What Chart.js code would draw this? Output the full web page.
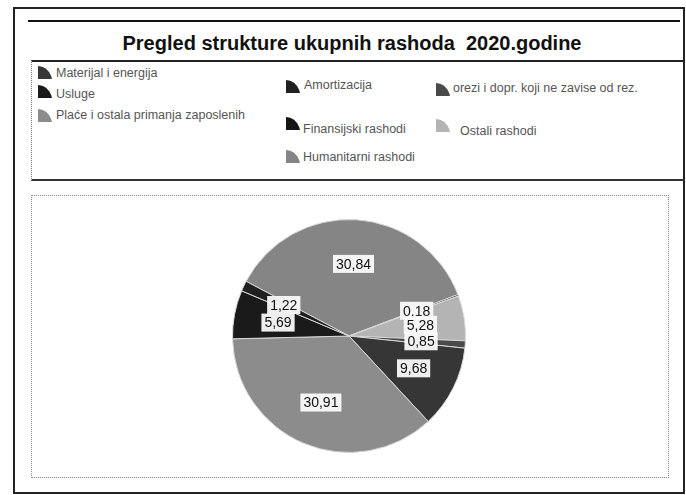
<!DOCTYPE html>
<html>
<head>
<meta charset="utf-8">
<script src="https://cdn.jsdelivr.net/npm/chart.js@4.4.0/dist/chart.umd.min.js"></script>
<style>
  html,body{margin:0;padding:0;background:#fff;}
  #wrap{position:relative;width:686px;height:495px;overflow:hidden;font-family:"Liberation Sans",Arial,sans-serif;}
  .frame{position:absolute;left:13px;top:7px;width:668px;height:483px;border:2px solid #222;}
  .topline{position:absolute;left:28px;top:20px;width:652px;height:0;border-top:2px solid #111;}
  .title{position:absolute;left:0;width:704px;top:32px;text-align:center;font-weight:bold;font-size:20px;color:#111;white-space:pre;}
  .legbox{position:absolute;left:31px;top:60px;width:653px;height:117px;border-top:2px solid #222;border-bottom:2px solid #333;border-left:1px dotted #777;}
  .chartbox{position:absolute;left:31px;top:195px;width:636px;height:281px;border:1px dotted #888;}
  .li{position:absolute;font-size:12.5px;color:#555;white-space:nowrap;line-height:14px;}
  .sw{position:absolute;width:14px;height:13px;clip-path:polygon(0 0,30% 6%,58% 22%,80% 48%,94% 76%,100% 100%,0 100%);}
  canvas{position:absolute;left:0;top:0;}
</style>
</head>
<body>
<div id="wrap">
  <div class="frame"></div>
  <div class="topline"></div>
  <div class="title" id="title"></div>
  <div class="legbox"></div>
  <div class="chartbox"></div>
  <div id="legend"></div>
  <canvas id="c" width="686" height="495"></canvas>
</div>
<script>
const chartTitle = 'Pregled strukture ukupnih rashoda  2020.godine';
const categories = [
  'Materijal i energija',
  'Usluge',
  'Plaće i ostala primanja zaposlenih',
  'Amortizacija',
  'orezi i dopr. koji ne zavise od rez.',
  'Finansijski rashodi',
  'Ostali rashodi',
  'Humanitarni rashodi'
];
const values = [9.68, 5.69, 30.91, 1.22, 0.85, 0.18, 5.28, 30.84];
const valueLabels = ['9,68', '5,69', '30,91', '1,22', '0,85', '0,18', '5,28', '30,84'];
const colors = ['#363636', '#1a1a1a', '#8c8c8c', '#202020', '#4a4a4a', '#151515', '#b4b4b4', '#858585'];
// order in which the slices appear clockwise in the pie
const pieOrder = [7, 5, 6, 4, 0, 2, 1, 3];
// legend item placement (swatch left, swatch top, text left, text top)
const legendPos = [
  [38, 66, 56, 66],
  [38, 85, 56, 87],
  [38, 109, 56, 108],
  [286, 80, 304, 78],
  [436, 83, 453, 81],
  [286, 117, 303, 122],
  [436, 119, 460, 124],
  [286, 150, 303, 150]
];

document.getElementById('title').textContent = chartTitle;
const leg = document.getElementById('legend');
categories.forEach((c, i) => {
  const p = legendPos[i];
  const s = document.createElement('div');
  s.className = 'sw';
  s.style.left = p[0] + 'px'; s.style.top = p[1] + 'px'; s.style.background = colors[i];
  leg.appendChild(s);
  const t = document.createElement('div');
  t.className = 'li';
  t.style.left = p[2] + 'px'; t.style.top = p[3] + 'px';
  t.textContent = c;
  leg.appendChild(t);
});

const labelPlugin = {
  id: 'boxLabels',
  afterDatasetsDraw(chart) {
    const ctx = chart.ctx;
    const meta = chart.getDatasetMeta(0);
    const ds = chart.data.datasets[0];
    ctx.save();
    ctx.font = '14px "Liberation Sans", Arial, sans-serif';
    ctx.textAlign = 'center';
    ctx.textBaseline = 'middle';
    meta.data.forEach((arc, i) => {
      const mid = (arc.startAngle + arc.endAngle) / 2;
      const r = arc.outerRadius * 0.62;
      const x = arc.x + Math.cos(mid) * r;
      const y = arc.y + Math.sin(mid) * r;
      const txt = ds.valueLabels[i];
      const w = ctx.measureText(txt).width + 6;
      ctx.fillStyle = 'rgba(250,250,250,0.95)';
      ctx.fillRect(x - w / 2, y - 9, w, 18);
      ctx.fillStyle = '#111';
      ctx.fillText(txt, x, y + 1);
    });
    ctx.restore();
  }
};

new Chart(document.getElementById('c'), {
  type: 'pie',
  data: {
    labels: pieOrder.map(i => categories[i]),
    datasets: [{
      data: pieOrder.map(i => values[i]),
      valueLabels: pieOrder.map(i => valueLabels[i]),
      backgroundColor: pieOrder.map(i => colors[i]),
      borderColor: '#d8d8d8',
      borderWidth: 1
    }]
  },
  options: {
    responsive: false,
    animation: false,
    rotation: 298,
    layout: { padding: { left: 232, right: 220, top: 219, bottom: 42 } },
    plugins: { legend: { display: false }, tooltip: { enabled: false }, title: { display: false } }
  },
  plugins: [labelPlugin]
});
</script>
</body>
</html>
